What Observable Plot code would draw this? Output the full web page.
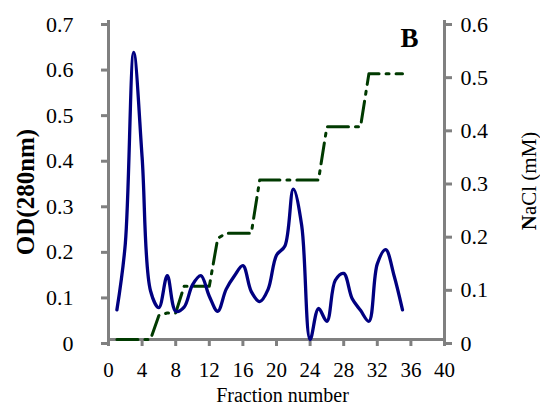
<!DOCTYPE html>
<html><head><meta charset="utf-8">
<script src="https://cdn.jsdelivr.net/npm/d3@7"></script>
<script src="https://cdn.jsdelivr.net/npm/@observablehq/plot@0.6"></script>
<style>body{margin:0;background:#fff}</style>
</head><body><div id="chart"></div>
<script>
const fractions = [1,2,3,4,5,6,7,8,9,10,11,12,13,14,15,16,17,18,19,20,21,22,23,24,25,26,27,28,29,30,31,32,33,34,35];
const od = [0.065,0.21,0.63,0.40,0.107,0.07,0.14,0.062,0.071,0.12,0.14,0.095,0.062,0.11,0.14,0.162,0.105,0.083,0.11,0.185,0.205,0.33,0.25,0.0,0.068,0.04,0.13,0.145,0.09,0.064,0.04,0.166,0.197,0.14,0.065];
const nacl = [0,0,0,0,0,0.045,0.05,0.05,0.1,0.1,0.1,0.1,0.19,0.2,0.2,0.2,0.2,0.3,0.3,0.3,0.3,0.3,0.3,0.3,0.3,0.4,0.4,0.4,0.4,0.4,0.5,0.5,0.5,0.5,0.5];
const xTicks = [0,4,8,12,16,20,24,28,32,36,40];
const odTicks = [0,0.1,0.2,0.3,0.4,0.5,0.6,0.7];
const naclTicks = [0,0.1,0.2,0.3,0.4,0.5,0.6];
const xLabel = "Fraction number";
const yLabel = "OD(280nm)";
const y2Label = "NaCl (mM)";
const panel = "B";

const ratio = 0.7 / 0.6;
const rows = fractions.map((f, i) => ({f, od: od[i], nacl: nacl[i]}));
const fmt = v => (Math.abs(v) < 1e-9 ? "0" : d3.format(".1f")(v));
const gray = "#808080";

const chart = Plot.plot({
  width: 540, height: 412,
  marginLeft: 108, marginRight: 96, marginTop: 20, marginBottom: 73,
  style: {fontFamily: "Liberation Serif", fontSize: "22px", background: "white", color: "black"},
  x: {domain: [0, 40]},
  y: {domain: [0, 0.7]},
  marks: [
    Plot.axisX(xTicks, {anchor: "bottom", tickSize: 7, tickPadding: 16, stroke: gray, strokeWidth: 3, fill: "black", fontSize: 21, label: null, tickFormat: d => String(d)}),
    Plot.axisY(odTicks, {anchor: "left", tickSize: 7, tickPadding: 28, stroke: gray, strokeWidth: 3, fill: "black", fontSize: 22, dy: 4, label: null, tickFormat: fmt}),
    Plot.axisY(naclTicks.map(v => v * ratio), {anchor: "right", tickSize: 7, tickPadding: 9, stroke: gray, strokeWidth: 3, fill: "black", fontSize: 22, dy: 4, label: null, tickFormat: v => fmt(v / ratio)}),
    Plot.ruleX([0, 40], {stroke: gray, strokeWidth: 3}),
    Plot.ruleY([0], {stroke: gray, strokeWidth: 3}),
    Plot.line(rows, {x: "f", y: d => d.nacl * ratio, stroke: "#003a00", strokeWidth: 3, strokeDasharray: "21,7,3,7"}),
    Plot.line(rows, {x: "f", y: "od", curve: "catmull-rom", stroke: "#000080", strokeWidth: 3.3}),
    Plot.text([yLabel], {frameAnchor: "left", rotate: -90, dx: -83, dy: 12, fontWeight: "bold", fontSize: 25, textAnchor: "middle", lineAnchor: "middle"}),
    Plot.text([y2Label], {frameAnchor: "right", rotate: -90, dx: 85, dy: 1, fontSize: 21, textAnchor: "middle", lineAnchor: "middle"}),
    Plot.text([panel], {frameAnchor: "top-right", dx: -35, dy: 26, fontWeight: "bold", fontSize: 27, textAnchor: "middle", lineAnchor: "bottom"}),
    Plot.text([xLabel], {frameAnchor: "bottom", dx: 6, dy: 62, fontSize: 20, textAnchor: "middle", lineAnchor: "bottom"})
  ]
});

d3.select(chart).selectAll("text").filter(function() { return this.textContent === y2Label; }).each(function() {
  const t = d3.select(this);
  t.text(null);
  t.append("tspan").attr("font-weight", "bold").text(y2Label.slice(0, 1));
  t.append("tspan").text(y2Label.slice(1));
});

document.getElementById("chart").appendChild(chart);
</script>
</body></html>
